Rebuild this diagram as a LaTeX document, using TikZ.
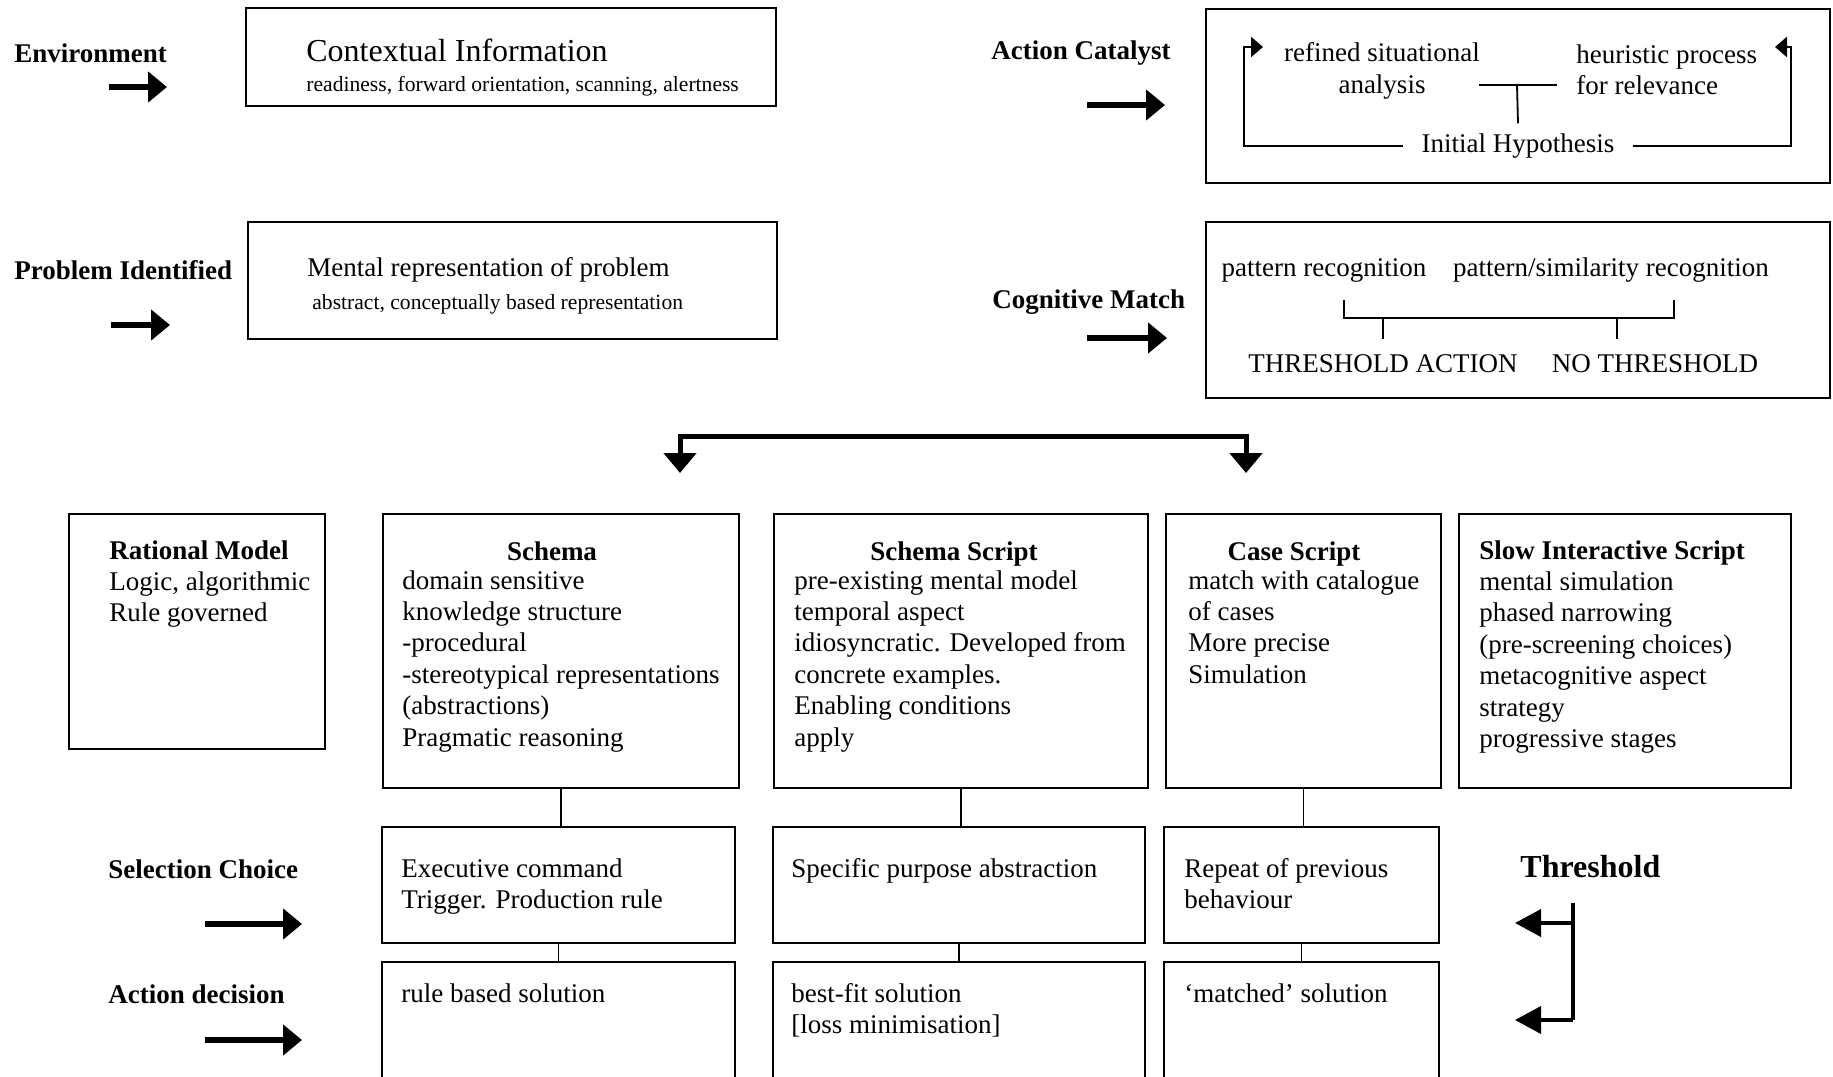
\documentclass[tikz,border=0pt]{standalone}
\usepackage{fontspec}
\setmainfont{Liberation Serif}
\usetikzlibrary{positioning, arrows.meta, calc}

\newcommand{\bodysize}{\fontsize{13.5}{15.7}\selectfont}

\begin{document}
\begin{tikzpicture}[
  x=0.5pt, y=-0.5pt,
  box/.style={draw, line width=1pt, anchor=north west, inner sep=0pt},
  lbl/.style={font=\bfseries\bodysize, anchor=west, inner sep=0pt},
  txt/.style={font=\bodysize, align=left, anchor=north west, inner sep=0pt},
  ttl/.style={font=\bfseries\bodysize, anchor=base, inner sep=0pt},
  sub/.style={font=\fontsize{10.8}{13}\selectfont, anchor=west, inner sep=0pt},
  arr/.style={line width=2.8pt, -{Triangle[length=9.5pt, width=15pt]}},
  bigarr/.style={line width=2.5pt,
    {Triangle[length=10pt, width=16pt]}-{Triangle[length=10pt, width=16pt]}},
  tharr/.style={line width=2pt, -{Triangle[length=13pt, width=13.5pt]}},
  cyc/.style={line width=1.3pt, -{Triangle[length=6pt, width=10pt]}},
  link/.style={line width=0.9pt},
]
\useasboundingbox (0,0) rectangle (1833,1077);
\clip (0,0) rectangle (1833,1077);

% Environment
\node[lbl] (env) at (14,53) {Environment};
\coordinate (envA) at (109,87);
\coordinate (envB) at (167,87);
\draw[arr] (envA) -- (envB);
\node[box, minimum width=265pt, minimum height=49pt] (ctx) at (245,7) {};
\node[anchor=west, inner sep=0pt, font=\fontsize{16}{19}\selectfont]
  (ctxT) at (306,50) {Contextual Information};
\node[sub] (ctxS) at (306,86) {readiness, forward orientation, scanning, alertness};

% Problem identified
\node[lbl] (prob) at (14,270) {Problem Identified};
\coordinate (probA) at (111,325);
\coordinate (probB) at (170,325);
\draw[arr] (probA) -- (probB);
\node[box, minimum width=264.5pt, minimum height=58.5pt] (men) at (247,221) {};
\node[anchor=west, inner sep=0pt, font=\bodysize]
  (menT) at (307,270) {Mental representation of problem};
\node[sub] (menS) at (312,304) {abstract, conceptually based representation};

% Action catalyst
\node[lbl] (actc) at (991,53) {Action Catalyst};
\coordinate (actcA) at (1087,105);
\coordinate (actcB) at (1165,105);
\draw[arr] (actcA) -- (actcB);
\node[box, minimum width=312pt, minimum height=87pt] (cat) at (1205,8) {};
\node[font=\bodysize, align=center, inner sep=0pt]
  (refd) at (1382,71) {refined situational\\analysis};
\node[font=\bodysize, align=left, inner sep=0pt, anchor=west]
  (heur) at (1576,70) {heuristic process\\for relevance};
\node[font=\bodysize, inner sep=0pt, inner xsep=9pt]
  (init) at (1518,146) {Initial Hypothesis};
\coordinate (tee) at (1517,85);
\draw[link] (tee) -- ([yshift=5pt]init.north);
\draw[link] ([xshift=-19pt]tee) -- ([xshift=20pt]tee);
\draw[cyc] (init.west) -| (1244,47) -- (1263,47);
\draw[cyc] (init.east) -| (1791,47) -- (1775,47);

% Cognitive match
\node[lbl] (cogm) at (992,302) {Cognitive Match};
\coordinate (cogmA) at (1087,338);
\coordinate (cogmB) at (1167,338);
\draw[arr] (cogmA) -- (cogmB);
\node[box, minimum width=312pt, minimum height=88pt] (cog) at (1205,221) {};
\node[font=\bodysize, inner sep=0pt] (prec) at (1324,270) {pattern recognition};
\node[font=\bodysize, inner sep=0pt] (psim) at (1611,270) {pattern/similarity recognition};
\node[font=\bodysize, inner sep=0pt] (thra) at (1383,364) {THRESHOLD ACTION};
\node[font=\bodysize, inner sep=0pt] (nthr) at (1655,364) {NO THRESHOLD};
\draw[link] (1344,300) -- (1344,318) -- (1674,318) -- (1674,300);
\draw[link] (thra.north |- 0,318) -- (thra.north |- 0,339);
\draw[link] ([xshift=3pt]psim.south |- 0,318) -- ([xshift=3pt]psim.south |- 0,339);

% Split arrow
\coordinate (brL) at (680,473);
\coordinate (brR) at (1246,473);
\coordinate (brM) at (962,436);
\draw[bigarr] (brL) -- (brL |- brM) -- (brR |- brM) -- (brR);

% Models
\node[box, minimum width=128pt, minimum height=117.5pt] (rat) at (68,513) {};
\node[txt] (ratT) at (109,540) {\textbf{Rational Model}\\Logic, algorithmic\\Rule governed};

\node[box, minimum width=178pt, minimum height=137pt] (sch) at (382,513) {};
\node[ttl] (schT) at (552,560) {Schema};
\node[txt] (schB) at (402,570) {domain sensitive\\knowledge structure\\-procedural\\
  -stereotypical representations\\(abstractions)\\Pragmatic reasoning};

\node[box, minimum width=187pt, minimum height=137pt] (ssc) at (773,513) {};
\node[ttl] (sscT) at (954,560) {Schema Script};
\node[txt] (sscB) at (794,570) {pre-existing mental model\\temporal aspect\\
  idiosyncratic. Developed from\\concrete examples.\\Enabling conditions\\apply};

\node[box, minimum width=137.5pt, minimum height=137pt] (csc) at (1165,513) {};
\node[ttl] (cscT) at (1294,560) {Case Script};
\node[txt] (cscB) at (1188,570) {match with catalogue\\of cases\\More precise\\Simulation};

\node[box, minimum width=166pt, minimum height=137pt] (sis) at (1458,513) {};
\node[txt] (sisT) at (1479,540) {\textbf{Slow Interactive Script}\\mental simulation\\
  phased narrowing\\(pre-screening choices)\\metacognitive aspect\\strategy\\progressive stages};

% Selection choice
\node[lbl] (selc) at (108,869) {Selection Choice};
\coordinate (selcA) at (205,924);
\coordinate (selcB) at (302,924);
\draw[arr] (selcA) -- (selcB);
\node[box, minimum width=176.5pt, minimum height=58pt] (sel1) at (381,826) {};
\node[txt] (sel1T) at (401,858) {Executive command\\Trigger. Production rule};
\node[box, minimum width=186pt, minimum height=58pt] (sel2) at (772,826) {};
\node[txt] (sel2T) at (791,858) {Specific purpose abstraction};
\node[box, minimum width=137.5pt, minimum height=58pt] (sel3) at (1163,826) {};
\node[txt] (sel3T) at (1184,858) {Repeat of previous\\behaviour};

% Action decision
\node[lbl] (actd) at (108,994) {Action decision};
\coordinate (actdA) at (205,1040);
\coordinate (actdB) at (302,1040);
\draw[arr] (actdA) -- (actdB);
\node[box, minimum width=176.5pt, minimum height=75pt] (dec1) at (381,961) {};
\node[txt] (dec1T) at (401,983) {rule based solution};
\node[box, minimum width=186pt, minimum height=75pt] (dec2) at (772,961) {};
\node[txt] (dec2T) at (791,983) {best-fit solution\\{[}loss minimisation{]}};
\node[box, minimum width=137.5pt, minimum height=75pt] (dec3) at (1163,961) {};
\node[txt] (dec3T) at (1184,983) {`matched' solution};

% Links
\draw[link] (sch.south) -- (sch.south |- sel1.north);
\draw[link] (ssc.south) -- (ssc.south |- sel2.north);
\draw[link] (csc.south) -- (csc.south |- sel3.north);
\draw[link] (sel1.south) -- (sel1.south |- dec1.north);
\draw[link] (sel2.south) -- (sel2.south |- dec2.north);
\draw[link] (sel3.south) -- (sel3.south |- dec3.north);

% Threshold
\node[anchor=west, inner sep=0pt, font=\bfseries\fontsize{16}{19}\selectfont]
  (thr) at (1520,867) {Threshold};
\coordinate (thrTop) at (1573,903);
\coordinate (thrBot) at (1573,1020);
\coordinate (thrA) at (1515,923);
\coordinate (thrB) at (1515,1020);
\draw[line width=1.8pt] (thrTop) -- (thrBot);
\draw[tharr] (thrTop |- thrA) -- (thrA);
\draw[tharr] (thrBot) -- (thrB);

\end{tikzpicture}
\end{document}
